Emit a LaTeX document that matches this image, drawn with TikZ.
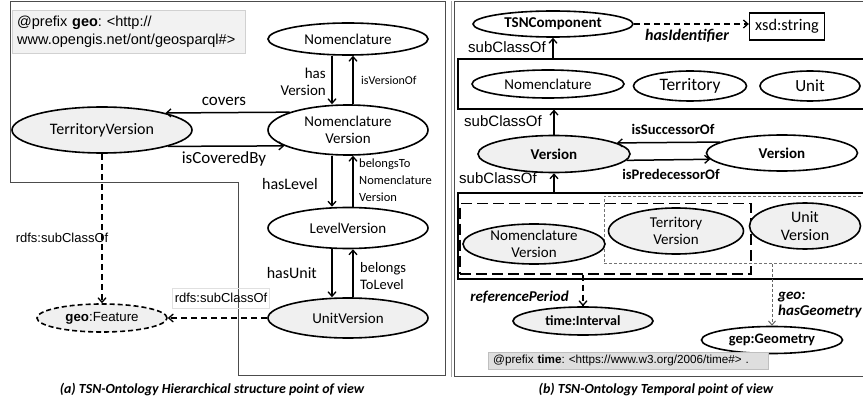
\documentclass[tikz,border=0pt]{standalone}
\usepackage{fontspec}
\setmainfont{Carlito}
\newfontfamily\arialf{Liberation Sans}
\usetikzlibrary{shapes.geometric,arrows.meta}
\frenchspacing
\newcommand\fs[2]{\fontsize{#1}{#2}\selectfont}
\definecolor{ellfill}{HTML}{F0F0F0}
\definecolor{prefill}{HTML}{F2F2F2}
\definecolor{timefill}{HTML}{DEDEDE}
\tikzset{
  ell/.style={ellipse, draw, line width=1.6pt, inner sep=0pt, align=center, font={\fs{15}{17}}},
  gell/.style={ell, fill=ellfill},
  arr/.style={line width=1.5pt, -{Straight Barb[length=4.5pt,width=8pt,line width=1.3pt]}},
  dasharr/.style={arr, dash pattern=on 6pt off 4pt},
  lbl/.style={inner sep=0pt, font={\fs{15}{17}}},
  albl/.style={inner sep=0pt, font={\arialf\fs{13}{15}}},
  frame/.style={draw=black!70, line width=0.9pt},
  boxn/.style={draw, inner sep=0pt, anchor=north west},
}
\begin{document}
\begin{tikzpicture}[x=1pt,y=-1pt]
\useasboundingbox (0,0) rectangle (863,401);
\clip (0,0) rectangle (863,401);

% ---------------- (a) left panel ----------------
\draw[frame] (10,1.5) -- (445,1.5) -- (445,375) -- (238,375) -- (238,182) -- (10,182) -- cycle;

\node[boxn, draw=black!18, fill=prefill, minimum width=233pt, minimum height=43pt,
      text width=223pt, inner xsep=5pt, align=left, font={\arialf\fs{14.5}{18}}]
      (geopre) at (12,10) {@prefix \textbf{geo}: <http://\\www.opengis.net/ont/geosparql\#>};

\node[ell, minimum width=160pt, minimum height=32pt] (nom) at (348,39) {Nomenclature};
\node[ell, minimum width=160pt, minimum height=50pt] (nomv) at (348,130) {Nomenclature\\Version};
\node[gell, minimum width=180pt, minimum height=46pt, font={\fs{16}{18}}] (terv) at (102,130) {TerritoryVersion};
\node[ell, minimum width=160pt, minimum height=41pt] (levv) at (348,228) {LevelVersion};
\node[gell, minimum width=160pt, minimum height=40pt] (unitv) at (348,318) {UnitVersion};
\node[gell, dash pattern=on 5pt off 3pt, minimum width=130pt, minimum height=28pt,
      font={\arialf\fs{13.3}{15}}] (feat) at (102,318) {\textbf{geo}:Feature};

\draw[arr] ([xshift=-16pt]nom.south) -- ([xshift=-16pt]nomv.north);
\draw[arr] ([xshift=5pt]nomv.north) -- ([xshift=5pt]nom.south);
\draw[arr] (nomv.163.8) -- (terv.15.7);
\draw[arr] (terv.346.1) -- (nomv.194.6);
\draw[arr] ([xshift=-16pt]nomv.south) -- ([xshift=-16pt]levv.north);
\draw[arr] ([xshift=5pt]levv.north) -- ([xshift=5pt]nomv.south);
\draw[arr] ([xshift=-16pt]levv.south) -- ([xshift=-16pt]unitv.north);
\draw[arr] ([xshift=5pt]unitv.north) -- ([xshift=5pt]levv.south);

\node[lbl, anchor=east, align=right] (lhv) at (326,82) {has\\Version};
\node[lbl, anchor=west, font={\fs{12}{14}}] (lvo) at (361,80) {isVersionOf};
\node[lbl, font={\fs{17}{19}}] (lcov) at (224,101) {covers};
\node[lbl, font={\fs{17}{19}}] (lcb) at (224,159) {isCoveredBy};
\node[lbl, anchor=east, font={\fs{16}{18}}] (lhl) at (318,184) {hasLevel};
\node[lbl, anchor=west, align=left, font={\fs{12.5}{17}}] (lbn) at (359,180) {belongsTo\\Nomenclature\\Version};
\node[lbl, anchor=east, font={\fs{16}{18}}] (lhu) at (317,273) {hasUnit};
\node[lbl, anchor=west, align=left, font={\fs{14.5}{17}}] (lbl) at (360,276) {belongs\\ToLevel};

\draw[dasharr] (terv.south) -- (feat.north);
\draw[dasharr] (unitv.west) -- (feat.east);
\node[albl] (lsc1) at (62,238) {rdfs:subClassOf};
\node[albl, draw=black!12, line width=0.5pt, inner xsep=2.5pt, minimum height=20pt] (lsc2) at (221,298) {rdfs:subClassOf};

\node[inner sep=0pt, font={\fs{13.9}{16}\bfseries\itshape}] (capa) at (212,390)
  {(a) TSN-Ontology Hierarchical structure point of view};

% ---------------- (b) right panel ----------------
\draw[black!35, line width=0.8pt] (451.5,1) -- (451.5,376.5);
\draw[frame] (875,1.5) -- (454,1.5) -- (454,376) -- (875,376);

\node[boxn, line width=1.6pt, minimum width=420pt, minimum height=50pt] (compbox) at (457,58) {};
\node[boxn, line width=1.6pt, minimum width=420pt, minimum height=86pt] (botbox) at (457,192) {};
\node[boxn, line width=1.5pt, dash pattern=on 11pt off 5pt, minimum width=291pt, minimum height=70pt] (tbox) at (459,203) {};
\node[boxn, draw=black!55, line width=0.9pt, dash pattern=on 3pt off 2pt, minimum width=280pt, minimum height=67pt] (gbox) at (604,196) {};

\node[ell, minimum width=160pt, minimum height=26pt, font={\fs{15}{17}\bfseries}] (tsn) at (553,24) {TSNComponent};
\node[boxn, anchor=center, line width=1.3pt, minimum width=75pt, minimum height=27pt, font={\fs{16.3}{18}}] (xsd) at (787,26.5) {xsd:string};
\draw[dasharr] (tsn.east) -- (tsn.east -| xsd.west);
\node[lbl, font={\fs{16}{18}\bfseries\itshape}] (lhid) at (687,36) {hasIdentifier};

\node[albl, font={\arialf\fs{15}{17}}] (sc1) at (507,47) {subClassOf};
\draw[arr] (compbox.north -| tsn.south) -- (tsn.south);

\node[ell, minimum width=152pt, minimum height=28pt] (nom2) at (548,84) {Nomenclature};
\node[ell, minimum width=113pt, minimum height=30pt, font={\fs{17.5}{19}}] (ter2) at (690,86) {Territory};
\node[ell, minimum width=100pt, minimum height=30pt, font={\fs{17}{19}}] (unit2) at (810,86) {Unit};

\node[albl, font={\arialf\fs{15}{17}}] (sc2) at (503,121) {subClassOf};
\node[gell, minimum width=152pt, minimum height=37pt, font={\fs{15}{17}\bfseries}] (ver) at (554,154) {Version};
\node[ell, minimum width=151pt, minimum height=36pt, font={\fs{15}{17}\bfseries}] (ver2) at (782,153) {Version};
\draw[arr] (ver.north) -- (ver.north |- compbox.south);
\draw[arr] (ver2.170.95) -- (ver.10.2);
\draw[arr] (ver.355.2) -- (ver2.185.7);
\node[lbl, font={\fs{14.6}{17}\bfseries}] (lsuc) at (673,129) {isSuccessorOf};
\node[lbl, font={\fs{14.6}{17}\bfseries}] (lpre) at (671,174) {isPredecessorOf};

\node[albl, font={\arialf\fs{15}{17}}] (sc3) at (498,178) {subClassOf};
\draw[arr] (botbox.north -| ver.south) -- (ver.south);

\node[gell, minimum width=142pt, minimum height=40pt] (nomv2) at (534,244) {Nomenclature\\Version};
\node[gell, minimum width=135pt, minimum height=46pt] (terv2) at (676,231) {Territory\\Version};
\node[gell, minimum width=111pt, minimum height=46pt, font={\fs{16}{18}}] (unitv2) at (805,226) {Unit\\Version};

\node[gell, minimum width=140pt, minimum height=28pt, font={\fs{14}{16}\bfseries}] (tint) at (583,321) {time:Interval};
\node[ell, minimum width=141pt, minimum height=27pt, font={\fs{14.5}{16}\bfseries}] (geom) at (772,340) {gep:Geometry};

\draw[dasharr] (tint.north |- tbox.south) -- (tint.north);
\draw[black!60, line width=1pt, dash pattern=on 3pt off 2pt, -{Straight Barb[length=4pt,width=7pt,line width=1pt]}]
  (geom.north |- gbox.south) -- (geom.north);
\node[lbl, anchor=east, font={\fs{15}{17}\bfseries\itshape}] (lrp) at (569,297) {referencePeriod};
\node[lbl, anchor=west, align=left, font={\fs{15}{16}\bfseries\itshape}] (lhg) at (778,305) {geo:\\hasGeometry};

\node[boxn, draw=black!25, fill=timefill, minimum width=279pt, minimum height=17pt,
      text width=270pt, inner xsep=5pt, align=left, font={\arialf\fs{11.7}{14}}]
      (timepre) at (488,352) {@prefix \textbf{time}: <https://www.w3.org/2006/time\#> .};

\node[inner sep=0pt, font={\fs{13.9}{16}\bfseries\itshape}] (capb) at (656,390)
  {(b) TSN-Ontology Temporal point of view};
\end{tikzpicture}
\end{document}
